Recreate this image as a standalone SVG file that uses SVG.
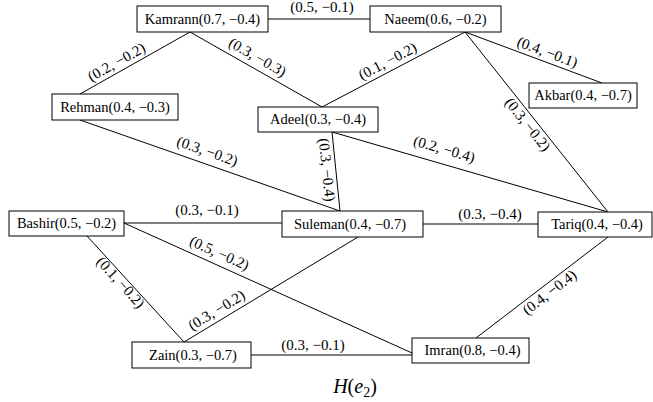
<svg xmlns="http://www.w3.org/2000/svg" width="653" height="402" viewBox="0 0 653 402">
<style>
.box{fill:#fff;stroke:#000;stroke-width:1}
.nt{font-family:"Liberation Serif","Times New Roman",serif;font-size:14.5px;fill:#000;text-anchor:middle}
.lbl{font-family:"Liberation Serif","Times New Roman",serif;font-size:15px;fill:#000;text-anchor:middle}
#edges line{stroke:#000;stroke-width:1}
</style>
<rect width="653" height="402" fill="#fff"/>
<g id="edges">
<line x1="268" y1="19" x2="370" y2="19"/>
<line x1="190" y1="32" x2="80" y2="94"/>
<line x1="190" y1="32" x2="322" y2="107"/>
<line x1="465" y1="32" x2="322" y2="107"/>
<line x1="465" y1="32" x2="602" y2="83"/>
<line x1="465" y1="32" x2="608" y2="212"/>
<line x1="80" y1="120" x2="340" y2="211"/>
<line x1="332" y1="132" x2="340" y2="211"/>
<line x1="332" y1="132" x2="608" y2="212"/>
<line x1="124" y1="223" x2="282" y2="223"/>
<line x1="423" y1="224" x2="538" y2="224"/>
<line x1="124" y1="223" x2="412" y2="353"/>
<line x1="87" y1="236" x2="184" y2="342"/>
<line x1="358" y1="237" x2="184" y2="342"/>
<line x1="608" y1="237" x2="476" y2="338"/>
<line x1="251" y1="355" x2="412" y2="355"/>
<text class="lbl" transform="translate(322,8)" y="4">(0.5, −0.1)</text>
<text class="lbl" transform="translate(117,63) rotate(-29.4)" y="4">(0.2, −0.2)</text>
<text class="lbl" transform="translate(257,58) rotate(29.6)" y="4">(0.3, −0.3)</text>
<text class="lbl" transform="translate(388,62) rotate(-27.7)" y="4">(0.1, −0.2)</text>
<text class="lbl" transform="translate(547,53) rotate(20.4)" y="4">(0.4, −0.1)</text>
<text class="lbl" transform="translate(527,125) rotate(51.5)" y="4">(0.3, −0.2)</text>
<text class="lbl" transform="translate(207,152) rotate(19.3)" y="4">(0.3, −0.2)</text>
<text class="lbl" transform="translate(326,170) rotate(84.2)" y="4">(0.3, −0.4)</text>
<text class="lbl" transform="translate(444,150) rotate(16.2)" y="4">(0.2, −0.4)</text>
<text class="lbl" transform="translate(207,211)" y="4">(0.3, −0.1)</text>
<text class="lbl" transform="translate(490,215)" y="4">(0.3, −0.4)</text>
<text class="lbl" transform="translate(219,254) rotate(24.1)" y="4">(0.5, −0.2)</text>
<text class="lbl" transform="translate(120,283) rotate(47.5)" y="4">(0.1, −0.2)</text>
<text class="lbl" transform="translate(217,311) rotate(-31.1)" y="4">(0.3, −0.2)</text>
<text class="lbl" transform="translate(550,293) rotate(-37.4)" y="4">(0.4, −0.4)</text>
<text class="lbl" transform="translate(313,346)" y="4">(0.3, −0.1)</text>
</g>
<g id="kamrann"><rect class="box" x="137" y="6" width="131" height="26"/><text class="nt" x="202.5" y="23.5">Kamrann(0.7, −0.4)</text></g>
<g id="naeem"><rect class="box" x="370" y="6" width="131" height="26"/><text class="nt" x="435.5" y="23.5">Naeem(0.6, −0.2)</text></g>
<g id="rehman"><rect class="box" x="52" y="94" width="126" height="26"/><text class="nt" x="115" y="111.5">Rehman(0.4, −0.3)</text></g>
<g id="adeel"><rect class="box" x="258" y="107" width="120" height="25"/><text class="nt" x="318" y="124">Adeel(0.3, −0.4)</text></g>
<g id="akbar"><rect class="box" x="529" y="83" width="108" height="25"/><text class="nt" x="583" y="100">Akbar(0.4, −0.7)</text></g>
<g id="bashir"><rect class="box" x="9" y="211" width="115" height="25"/><text class="nt" x="66.5" y="228">Bashir(0.5, −0.2)</text></g>
<g id="suleman"><rect class="box" x="282" y="211" width="141" height="26"/><text class="nt" x="350" y="228.5">Suleman(0.4, −0.7)</text></g>
<g id="tariq"><rect class="box" x="538" y="212" width="114" height="25"/><text class="nt" x="597" y="229">Tariq(0.4, −0.4)</text></g>
<g id="zain"><rect class="box" x="132" y="342" width="119" height="26"/><text class="nt" x="193" y="359.5">Zain(0.3, −0.7)</text></g>
<g id="imran"><rect class="box" x="412" y="338" width="117" height="25"/><text class="nt" x="472.5" y="355">Imran(0.8, −0.4)</text></g>
<text x="355" y="393" font-family="'Liberation Serif','Times New Roman',serif" font-size="20" text-anchor="middle"><tspan font-style="italic">H</tspan>(<tspan font-style="italic">e</tspan><tspan font-size="14" dy="4">2</tspan><tspan dy="-4">)</tspan></text>
</svg>
